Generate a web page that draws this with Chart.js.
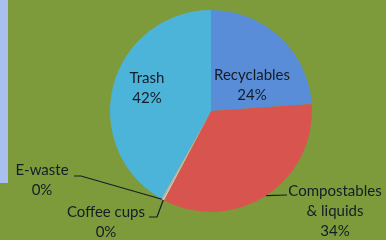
<!DOCTYPE html>
<html>
<head>
<meta charset="utf-8">
<script src="https://cdn.jsdelivr.net/npm/chart.js@4"></script>
<style>
    body { margin: 0; background: #7e9b3c; }
    #wrap { position: relative; width: 386px; height: 240px; overflow: hidden; }
    #strip { position: absolute; left: 0; top: 0; width: 8px; height: 183px; background: #a8bff0; }
    canvas { position: absolute; left: 0; top: 0; }
</style>
</head>
<body>
<div id="wrap">
    <div id="strip"></div>
    <canvas id="pie" width="386" height="240"></canvas>
</div>
<script>
const categories = ['Recyclables', 'Compostables\n& liquids', 'Coffee cups', 'E-waste', 'Trash'];
const shares = [24, 34, 0.25, 0.25, 42];
const shareLabels = ['24%', '34%', '0%', '0%', '42%'];
const sliceColors = ['#5a8dd8', '#d8554f', '#c9d7a2', '#b9aad2', '#4cb4d8'];

// where each label sits (layout only): text centre x, first baseline y, leader start
const labelLayout = [
    { x: 252, y: 80, inside: true },
    { x: 335, y: 196, lead: [[287, 195]] },
    { x: 106, y: 217, lead: [[149, 217], [157, 217]] },
    { x: 42, y: 175, lead: [[74, 176], [81, 176]] },
    { x: 147, y: 83, inside: true }
];

const labelPlugin = {
    id: 'sliceLabels',
    afterDatasetsDraw(chart) {
        const ctx = chart.ctx;
        const arcs = chart.getDatasetMeta(0).data;
        ctx.save();
        ctx.font = '15px Lato';
        ctx.fillStyle = '#141c26';
        ctx.strokeStyle = '#141c26';
        ctx.lineWidth = 1.2;
        ctx.textAlign = 'center';
        ctx.textBaseline = 'alphabetic';
        arcs.forEach((arc, i) => {
            const pos = labelLayout[i];
            const lines = categories[i].split('\n').concat(shareLabels[i]);
            lines.forEach((t, k) => ctx.fillText(t, pos.x, pos.y + k * 20));
            if (pos.lead) {
                const mid = (arc.startAngle + arc.endAngle) / 2;
                const ex = arc.x + arc.outerRadius * Math.cos(mid);
                const ey = arc.y + arc.outerRadius * Math.sin(mid);
                ctx.beginPath();
                ctx.moveTo(pos.lead[0][0], pos.lead[0][1]);
                pos.lead.slice(1).forEach(p => ctx.lineTo(p[0], p[1]));
                ctx.lineTo(ex, ey);
                ctx.stroke();
            }
        });
        ctx.restore();
    }
};

new Chart(document.getElementById('pie'), {
    type: 'pie',
    data: {
        labels: categories,
        datasets: [{
            data: shares,
            backgroundColor: sliceColors,
            borderWidth: 0
        }]
    },
    options: {
        responsive: false,
        animation: false,
        layout: { padding: { left: 110, right: 74, top: 10, bottom: 28 } },
        plugins: {
            legend: { display: false },
            tooltip: { enabled: false }
        }
    },
    plugins: [labelPlugin]
});
</script>
</body>
</html>
